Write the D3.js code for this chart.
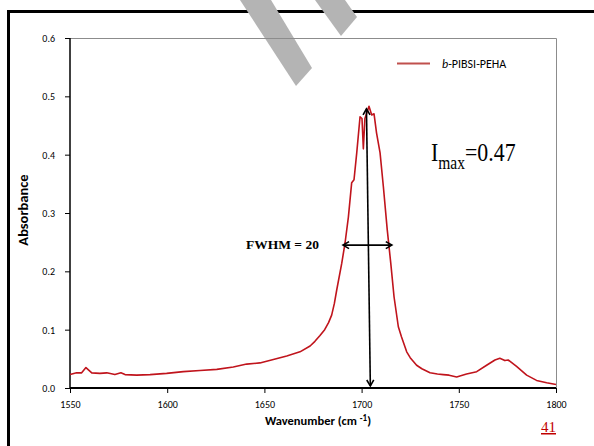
<!DOCTYPE html>
<html>
<head>
<meta charset="utf-8">
<script src="https://cdn.jsdelivr.net/npm/d3@7"></script>
<style>
  html, body { margin: 0; padding: 0; background: #fff; }
  svg { display: block; }
</style>
</head>
<body>
<svg id="chart" width="594" height="446"></svg>
<script>
// FTIR spectrum of b-PIBSI-PEHA in the carbonyl region
const wavenumber = [1550, 1553.4, 1556, 1558.2, 1561.2, 1565.4, 1568.9, 1573.1, 1576.2, 1578.3,
  1584.3, 1591.2, 1599.7, 1608.3, 1616.9, 1625.5, 1634, 1640.9, 1647.7, 1654.6,
  1661.5, 1668.3, 1673.5, 1676, 1678.6, 1681, 1683, 1684.6, 1686, 1687.2,
  1689.8, 1691.5, 1693.2, 1694.9, 1696.1, 1697.5, 1699.2, 1700.2, 1700.9, 1701.7,
  1703, 1703.8, 1705.2, 1706.4, 1707.7, 1709.5, 1711.2, 1713.2, 1715, 1716.7,
  1718.9, 1720.5, 1723.2, 1725, 1728.3, 1731, 1735.2, 1739, 1742, 1745,
  1748.9, 1751, 1754, 1759.2, 1764.3, 1768.6, 1771.1, 1773.7, 1775.4, 1779.7,
  1784.9, 1790, 1795.2, 1800];
const absorbance = [0.023, 0.026, 0.026, 0.035, 0.026, 0.025, 0.026, 0.023, 0.026, 0.023,
  0.022, 0.023, 0.025, 0.028, 0.030, 0.032, 0.036, 0.041, 0.043, 0.049,
  0.055, 0.062, 0.072, 0.080, 0.090, 0.100, 0.112, 0.125, 0.145, 0.168,
  0.214, 0.249, 0.293, 0.352, 0.357, 0.403, 0.465, 0.462, 0.410, 0.462,
  0.475, 0.483, 0.468, 0.470, 0.437, 0.403, 0.345, 0.271, 0.214, 0.156,
  0.105, 0.088, 0.062, 0.052, 0.039, 0.033, 0.026, 0.024, 0.023, 0.022,
  0.019, 0.021, 0.024, 0.028, 0.039, 0.048, 0.051, 0.047, 0.048, 0.037,
  0.022, 0.013, 0.009, 0.006];

const xTicks = [1550, 1600, 1650, 1700, 1750, 1800];
const yTicks = [0.0, 0.1, 0.2, 0.3, 0.4, 0.5, 0.6];
const seriesName = "b-PIBSI-PEHA";

// peak annotations
const imax = 0.47;
const fwhm = 20;
const peakCenter = 1703;
const fwhmLevel = 0.245;

const svg = d3.select("#chart");
const plotLeft = 70, plotRight = 556, plotTop = 38, plotBottom = 388;

const x = d3.scaleLinear().domain([1550, 1800]).range([plotLeft, plotRight]);
const y = d3.scaleLinear().domain([0, 0.6]).range([plotBottom, plotTop]);

// slide frame
svg.append("path")
  .attr("d", `M8.5,446 L8.5,11.5 L600,11.5`)
  .attr("fill", "none").attr("stroke", "#000").attr("stroke-width", 3);

// decorative diagonal bands
const bands = [
  [[240, 0], [271, 0], [312, 68], [296, 86]],
  [[315, 0], [345, 0], [357, 17], [341, 36]]
];
svg.selectAll("polygon.band").data(bands).enter().append("polygon")
  .attr("class", "band")
  .attr("points", d => d.map(p => p.join(",")).join(" "))
  .attr("fill", "#b4b4b4");

// plot frame (top and right)
svg.append("path")
  .attr("d", `M${plotLeft},${plotTop + 0.5} L${plotRight + 0.5},${plotTop + 0.5} L${plotRight + 0.5},${plotBottom}`)
  .attr("fill", "none").attr("stroke", "#8c8c8c").attr("stroke-width", 1);

// axes
const xAxis = d3.axisBottom(x).tickValues(xTicks).tickSize(5).tickFormat(d3.format("d"));
const yAxis = d3.axisLeft(y).tickValues(yTicks).tickSize(5).tickFormat(d3.format(".1f"));

const gx = svg.append("g").attr("transform", `translate(0,${plotBottom})`).call(xAxis);
gx.select(".domain").attr("stroke", "#000").attr("stroke-width", 2).attr("d", `M${plotLeft},0H${plotRight}`);
gx.selectAll(".tick line").attr("stroke", "#000").attr("stroke-width", 1);
gx.selectAll(".tick text").attr("font-family", "Carlito, Lato, sans-serif").attr("font-size", 10)
  .attr("fill", "#000").attr("dy", "0").attr("y", 20);

const gy = svg.append("g").attr("transform", `translate(${plotLeft},0)`).call(yAxis);
gy.select(".domain").attr("stroke", "#000").attr("stroke-width", 1.5).attr("d", `M0,${plotBottom}V${plotTop}`);
gy.selectAll(".tick line").attr("stroke", "#000").attr("stroke-width", 1);
gy.selectAll(".tick text").attr("font-family", "Carlito, Lato, sans-serif").attr("font-size", 10)
  .attr("fill", "#000").attr("x", -15).attr("dy", "0.35em");

// axis titles
const xt = svg.append("text")
  .attr("x", 318).attr("y", 425).attr("text-anchor", "middle")
  .attr("font-family", "Carlito, Lato, sans-serif").attr("font-weight", "bold").attr("font-size", 12.5);
xt.append("tspan").text("Wavenumber (cm ");
xt.append("tspan").attr("font-size", 9).attr("dy", -4).text("-1");
xt.append("tspan").attr("dy", 4).text(")");

svg.append("text")
  .attr("transform", `translate(28,210) rotate(-90)`)
  .attr("text-anchor", "middle")
  .attr("font-family", "Carlito, Lato, sans-serif").attr("font-weight", "bold").attr("font-size", 14.5)
  .text("Absorbance");

// spectrum
const pts = wavenumber.map((w, i) => [w, absorbance[i]]);
const line = d3.line().x(d => x(d[0])).y(d => y(d[1]));
svg.append("path").datum(pts)
  .attr("d", line)
  .attr("fill", "none").attr("stroke", "#c0141c").attr("stroke-width", 1.6)
  .attr("stroke-linejoin", "round");

// legend
svg.append("line")
  .attr("x1", 397).attr("x2", 430).attr("y1", 63.5).attr("y2", 63.5)
  .attr("stroke", "#c0504d").attr("stroke-width", 2);
const lt = svg.append("text")
  .attr("x", 442).attr("y", 67.5)
  .attr("font-family", "Carlito, Lato, sans-serif").attr("font-size", 12).attr("fill", "#000");
lt.append("tspan").attr("font-style", "italic").text(seriesName.slice(0, 1));
lt.append("tspan").text(seriesName.slice(1));

// chevron arrow heads
function head(px, py, angle) {
  const L = 7, a = Math.PI / 6;
  const p1 = [px - L * Math.cos(angle - a), py - L * Math.sin(angle - a)];
  const p2 = [px - L * Math.cos(angle + a), py - L * Math.sin(angle + a)];
  svg.append("path")
    .attr("d", `M${p1[0]},${p1[1]} L${px},${py} L${p2[0]},${p2[1]}`)
    .attr("fill", "none").attr("stroke", "#000").attr("stroke-width", 1.6);
}

// Imax arrow
const vx1 = x(peakCenter - 0.5), vy1 = y(imax) - 5;
const vx2 = x(peakCenter + 1.5), vy2 = y(0) - 2;
svg.append("line").attr("x1", vx1).attr("y1", vy1).attr("x2", vx2).attr("y2", vy2)
  .attr("stroke", "#000").attr("stroke-width", 1.6);
const ang = Math.atan2(vy2 - vy1, vx2 - vx1);
head(vx1, vy1, ang + Math.PI);
head(vx2, vy2, ang);

// FWHM arrow
const hx1 = x(peakCenter - fwhm / 2) - 5, hx2 = x(peakCenter + fwhm / 2) + 5, hy = y(fwhmLevel);
svg.append("line").attr("x1", hx1).attr("y1", hy).attr("x2", hx2).attr("y2", hy)
  .attr("stroke", "#000").attr("stroke-width", 1.6);
head(hx1, hy, Math.PI);
head(hx2, hy, 0);

svg.append("text")
  .attr("x", 246).attr("y", 249)
  .attr("font-family", "'Liberation Serif', 'Times New Roman', serif").attr("font-weight", "bold")
  .attr("font-size", 13.5)
  .text(`FWHM = ${fwhm}`);

// peak intensity label, slightly condensed
const it = svg.append("text")
  .attr("transform", "translate(431,161) scale(0.84,1)")
  .attr("font-family", "'Liberation Serif', 'Times New Roman', serif").attr("font-size", 26);
it.append("tspan").text("I");
it.append("tspan").attr("font-size", 18.5).attr("dy", 8).text("max");
it.append("tspan").attr("dy", -8).text(`=${imax}`);

// slide number
svg.append("text")
  .attr("x", 541).attr("y", 432)
  .attr("font-family", "'Liberation Serif', 'Times New Roman', serif").attr("font-size", 15)
  .attr("fill", "#c00000").attr("text-decoration", "underline")
  .text("41");
</script>
</body>
</html>
